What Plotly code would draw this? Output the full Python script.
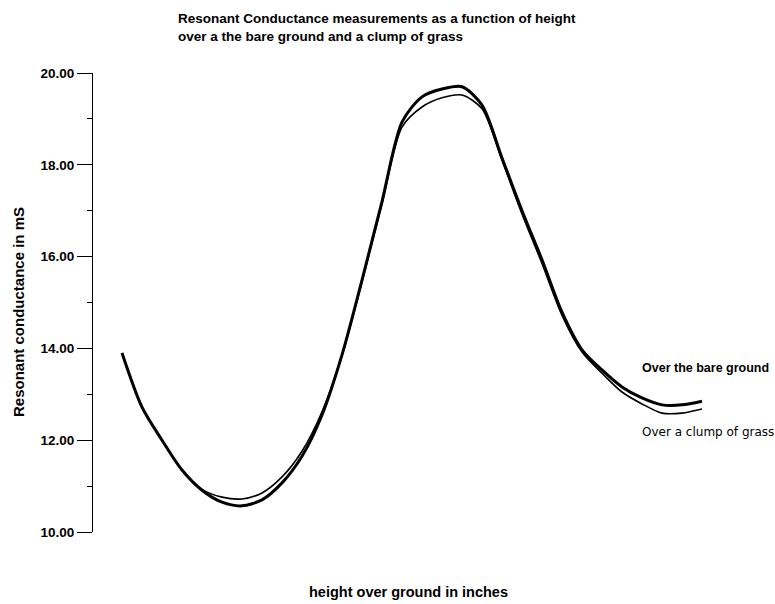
import plotly.graph_objects as go

# Sample heights (arbitrary units, evenly spaced; the chart shows no x tick labels)
heights = list(range(30))

# Resonant conductance in mS
bare_ground = [13.90, 12.72, 12.00, 11.35, 10.91, 10.65, 10.57, 10.70, 11.07, 11.65,
               12.55, 13.86, 15.49, 17.20, 18.93, 19.48, 19.65, 19.70, 19.30, 18.15,
               17.00, 15.93, 14.79, 13.97, 13.53, 13.16, 12.92, 12.77, 12.77, 12.85]
clump_of_grass = [13.90, 12.72, 12.00, 11.35, 10.93, 10.76, 10.72, 10.85, 11.20, 11.76,
                  12.62, 13.85, 15.45, 17.15, 18.82, 19.26, 19.46, 19.52, 19.22, 18.10,
                  16.93, 15.85, 14.72, 13.92, 13.46, 13.05, 12.79, 12.59, 12.59, 12.68]

fig = go.Figure()

fig.add_trace(go.Scatter(x=heights, y=clump_of_grass, mode='lines', name='Over a clump of grass',
                         line=dict(color='black', width=1.6, shape='spline', smoothing=0.8)))
fig.add_trace(go.Scatter(x=heights, y=bare_ground, mode='lines', name='Over the bare ground',
                         line=dict(color='black', width=3, shape='spline', smoothing=0.8)))

font_face = 'Liberation Sans, Arial, sans-serif'

fig.update_layout(
    width=775, height=604,
    margin=dict(l=93, r=65, t=73, b=72),
    paper_bgcolor='white', plot_bgcolor='white',
    showlegend=False,
    font=dict(family=font_face, color='black'),
    xaxis=dict(range=[-1.45, 29.4], showline=False, showticklabels=False, ticks='',
               showgrid=False, zeroline=False),
    yaxis=dict(range=[10, 20], dtick=2, tickformat='.2f', showline=True, linecolor='black',
               linewidth=1, ticks='outside', ticklen=15, tickcolor='black', tickwidth=1,
               showgrid=False, zeroline=False,
               tickfont=dict(size=13.5, family='Liberation Sans', color='black', weight='bold'),
               minor=dict(dtick=1, ticks='outside', ticklen=5, tickcolor='black', showgrid=False)),
)

# plot area spans page x 93..710 and page y 73..532
def px(x):
    return (x - 93) / 617

def py(y):
    return (532 - y) / 459

fig.add_annotation(text='<b>Resonant Conductance measurements as a function of height<br>'
                        'over a the bare ground and a clump of grass</b>',
                   xref='paper', yref='paper', x=px(176), y=py(9), xanchor='left', yanchor='top',
                   align='left', showarrow=False, font=dict(size=13.5))
fig.add_annotation(text='<b>Resonant conductance in mS</b>', textangle=-90,
                   xref='paper', yref='paper', x=px(18), y=py(312),
                   xanchor='center', yanchor='middle',
                   showarrow=False, font=dict(size=15))
fig.add_annotation(text='<b>height over ground in inches</b>',
                   xref='paper', yref='paper', x=px(408), y=py(592),
                   xanchor='center', yanchor='middle',
                   showarrow=False, font=dict(size=14.5))
fig.add_annotation(text='<b>Over the bare ground</b>', xref='paper', yref='paper',
                   x=px(640), y=py(368), xanchor='left', yanchor='middle',
                   showarrow=False, font=dict(size=12.5))
fig.add_annotation(text='Over a clump of grass', xref='paper', yref='paper',
                   x=px(640), y=py(432), xanchor='left', yanchor='middle',
                   showarrow=False, font=dict(size=12, family='DejaVu Sans'))

# drop the page's default body margin so the figure fills the window exactly
fig.write_html('out.html', config={'displayModeBar': False},
               post_script="document.body.style.margin='0';")
